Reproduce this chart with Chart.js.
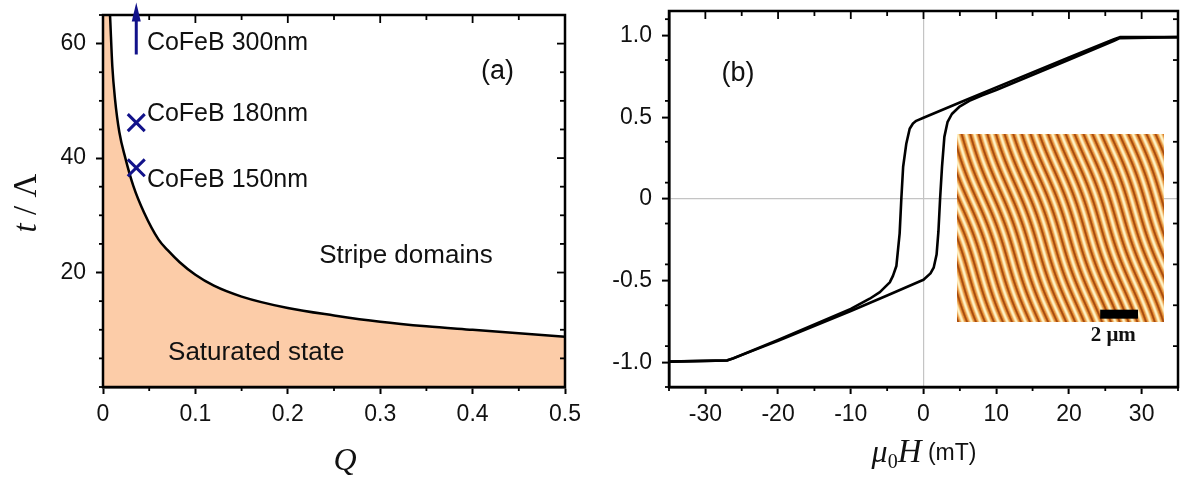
<!DOCTYPE html>
<html>
<head>
<meta charset="utf-8">
<script src="https://cdn.jsdelivr.net/npm/chart.js@4"></script>
<style>
  html, body { margin: 0; padding: 0; background: #fff; }
  #wrap { position: relative; width: 1182px; height: 481px; }
  .panel { position: absolute; top: 0; height: 481px; }
</style>
</head>
<body>
<div id="wrap">
  <div class="panel" style="left:0;width:590px"><canvas id="phaseChart"></canvas></div>
  <div class="panel" style="left:590px;width:592px"><canvas id="loopChart"></canvas></div>
</div>
<script>
// (a) phase boundary t/Lambda vs Q
const phaseQ = [0, 0.006, 0.0076, 0.0101, 0.013, 0.0177, 0.0242, 0.0329, 0.0444, 0.06, 0.07, 0.083, 0.1, 0.12, 0.15, 0.2, 0.25, 0.3, 0.35, 0.4, 0.45, 0.5];
const phaseT = [70, 70, 65, 56, 50.3, 44.5, 40, 35.1, 30.5, 25.8, 23.9, 21.8, 19.6, 17.7, 15.8, 13.8, 12.5, 11.4, 10.6, 10, 9.4, 8.8];
const sampleQ = [0.036, 0.036];
const sampleT = [46.2, 38.3];
const arrowQ = 0.036, arrowFrom = 58.1, arrowTo = 67.2;
const sampleLabels = ['CoFeB 300nm', 'CoFeB 180nm', 'CoFeB 150nm'];
const labelQ = 0.0475;
const labelT = [60.1, 47.6, 36.1];
const qTicks = [0, 0.1, 0.2, 0.3, 0.4, 0.5];
const tTicks = [20, 40, 60];

// (b) hysteresis loop
const descH = [35, 27, 26.2, 20, 10, 5, 0, -1.0, -1.45, -1.9, -2.36, -2.8, -3.05, -3.28, -3.73, -4.2, -4.64, -6.0, -7.4, -10, -20, -26.2, -27, -35];
const descM = [0.99, 0.99, 0.977, 0.866, 0.683, 0.59, 0.497, 0.478, 0.462, 0.43, 0.34, 0.197, 0, -0.21, -0.41, -0.47, -0.51, -0.57, -0.61, -0.672, -0.862, -0.976, -0.987, -0.995];
const ascH = [-35, -27, -26.2, -20, -10, -5, 0, 0.96, 1.4, 1.8, 2.05, 2.28, 2.55, 2.87, 3.3, 3.9, 4.9, 6.3, 8, 10, 20, 26.2, 27, 35];
const ascM = [-0.995, -0.988, -0.975, -0.868, -0.685, -0.59, -0.494, -0.455, -0.42, -0.34, -0.2, 0, 0.2, 0.38, 0.47, 0.52, 0.563, 0.6, 0.633, 0.667, 0.852, 0.968, 0.984, 0.99];
const insetH = [4.65, 33.06];
const insetM = [0.396, -0.756];
const barH = [24.3, 29.5];
const barM = [-0.677, -0.732];
const barLabel = '2 μm';
const barLabelAt = [26.1, -0.835];
const hTicks = [-30, -20, -10, 0, 10, 20, 30];
const mTicks = [-1, -0.5, 0, 0.5, 1];

const peach = '#fccca8';
const navy = '#12128a';
const sans = 'Arial, "Liberation Sans", sans-serif';
const serif = '"Liberation Serif", "DejaVu Serif", serif';

Chart.defaults.font.family = sans;
Chart.defaults.color = '#111';

function pts(xs, ys) { return xs.map((v, i) => ({x: v, y: ys[i]})); }

function line(ctx, x1, y1, x2, y2) {
  ctx.beginPath(); ctx.moveTo(x1, y1); ctx.lineTo(x2, y2); ctx.stroke();
}

// box, minor ticks and mirrored (inward) ticks on top/right
function drawFrame(chart, minorX, minorY) {
  const {ctx, chartArea: a, scales: {x, y}} = chart;
  ctx.save();
  ctx.strokeStyle = '#000';
  ctx.lineWidth = 1.8;
  const isMajor = (s, v) => s.ticks.some(t => Math.abs(t.value - v) < 1e-6);
  for (let v = x.min; v <= x.max + 1e-9; v += minorX) {
    const px = x.getPixelForValue(v);
    const maj = isMajor(x, v);
    line(ctx, px, a.top, px, a.top + (maj ? 8 : 5));
    if (!maj) line(ctx, px, a.bottom, px, a.bottom + 4);
  }
  for (let v = y.min; v <= y.max + 1e-9; v += minorY) {
    const py = y.getPixelForValue(v);
    const maj = isMajor(y, v);
    line(ctx, a.right, py, a.right - (maj ? 8 : 5), py);
    if (!maj) line(ctx, a.left, py, a.left - 4, py);
  }
  ctx.lineWidth = 2.5;
  ctx.strokeRect(a.left, a.top, a.right - a.left, a.bottom - a.top);
  ctx.restore();
}

function axisOpts(ticks, size, horizontal, fmt) {
  return {
    type: 'linear',
    afterBuildTicks: s => { s.ticks = ticks.map(v => ({value: v})); },
    afterFit: s => {
      if (horizontal) s.height = size; else s.width = size;
      s.paddingTop = 0; s.paddingBottom = 0; s.paddingLeft = 0; s.paddingRight = 0;
    },
    ticks: { font: {size: 23}, color: '#111', padding: horizontal ? 7 : 10, callback: fmt },
    grid: { drawOnChartArea: false, tickLength: 7, tickWidth: 2, tickColor: '#000' },
    border: { display: true, color: '#000', width: 2.5 }
  };
}

// (a)
const phasePlugin = {
  id: 'phaseDeco',
  afterDraw(chart) {
    const {ctx, scales: {x, y}} = chart;
    drawFrame(chart, 0.05, 5);
    ctx.save();
    // arrow for 300 nm
    const ax = x.getPixelForValue(arrowQ);
    const y0 = y.getPixelForValue(arrowFrom), y1 = y.getPixelForValue(arrowTo);
    ctx.strokeStyle = navy; ctx.fillStyle = navy; ctx.lineWidth = 3;
    line(ctx, ax, y0, ax, y1 + 14);
    ctx.beginPath();
    ctx.moveTo(ax, y1); ctx.lineTo(ax + 4.5, y1 + 19); ctx.lineTo(ax - 4.5, y1 + 19);
    ctx.closePath(); ctx.fill();
    // labels
    ctx.fillStyle = '#111';
    ctx.font = '25px ' + sans;
    ctx.textBaseline = 'middle'; ctx.textAlign = 'left';
    sampleLabels.forEach((s, i) => ctx.fillText(s, x.getPixelForValue(labelQ), y.getPixelForValue(labelT[i])));
    ctx.font = '26px ' + sans;
    ctx.fillText('Stripe domains', x.getPixelForValue(0.234), y.getPixelForValue(22.9));
    ctx.fillText('Saturated state', x.getPixelForValue(0.0704), y.getPixelForValue(6.0));
    ctx.textAlign = 'center';
    ctx.font = '27px ' + sans;
    ctx.fillText('(a)', x.getPixelForValue(0.427), y.getPixelForValue(55.2));
    // axis titles
    ctx.textAlign = 'left'; ctx.textBaseline = 'alphabetic';
    ctx.font = 'italic 32px ' + serif;
    const qw = ctx.measureText('Q').width;
    ctx.fillText('Q', 345 - qw / 2, 470);
    ctx.translate(36, 203); ctx.rotate(-Math.PI / 2);
    const parts = [['italic 33px ' + serif, 't'], ['33px ' + serif, ' / '], ['33px ' + serif, 'Λ']];
    let tw = 0;
    parts.forEach(p => { ctx.font = p[0]; tw += ctx.measureText(p[1]).width; });
    let cx = -tw / 2;
    parts.forEach(p => { ctx.font = p[0]; ctx.fillText(p[1], cx, 0); cx += ctx.measureText(p[1]).width; });
    ctx.restore();
  }
};

new Chart(document.getElementById('phaseChart'), {
  type: 'scatter',
  data: {
    datasets: [{
      data: pts(sampleQ, sampleT),
      pointStyle: 'crossRot', pointRadius: 12, pointBorderWidth: 3,
      borderColor: navy, backgroundColor: navy, showLine: false
    }, {
      data: pts(phaseQ, phaseT),
      showLine: true, pointRadius: 0, borderColor: '#000', borderWidth: 2.5,
      backgroundColor: peach, fill: 'origin', cubicInterpolationMode: 'monotone'
    }]
  },
  options: {
    responsive: true, maintainAspectRatio: false, animation: false,
    layout: { padding: {left: 0, top: 15, right: 25, bottom: 0} },
    plugins: { legend: {display: false}, tooltip: {enabled: false} },
    scales: {
      x: Object.assign(axisOpts(qTicks, 94, true), {min: 0, max: 0.5}),
      y: Object.assign(axisOpts(tTicks, 103, false), {min: 0, max: 65})
    }
  },
  plugins: [phasePlugin]
});

// (b)
function stripeImage(w, h) {
  const c = document.createElement('canvas');
  c.width = w; c.height = h;
  const g = c.getContext('2d');
  const img = g.createImageData(w, h);
  const dark = [166, 74, 14], mid = [228, 142, 52], light = [255, 243, 198];
  const ang = 20 * Math.PI / 180, period = 8.8;
  for (let j = 0; j < h; j++) {
    for (let i = 0; i < w; i++) {
      const ph = (i - j * Math.tan(ang) + 1.6 * Math.sin(j / 23 + i / 60)) / period;
      const v = 0.5 + 0.5 * Math.cos(2 * Math.PI * ph);
      let col;
      if (v < 0.25) { const t = v / 0.25; col = dark.map((d, k) => d + (mid[k] - d) * t); }
      else { const t = Math.pow((v - 0.25) / 0.75, 1.4); col = mid.map((d, k) => d + (light[k] - d) * t); }
      const o = (j * w + i) * 4;
      img.data[o] = col[0]; img.data[o + 1] = col[1]; img.data[o + 2] = col[2]; img.data[o + 3] = 255;
    }
  }
  g.putImageData(img, 0, 0);
  return c;
}

const loopPlugin = {
  id: 'loopDeco',
  afterDatasetsDraw(chart) {
    const {ctx, scales: {x, y}} = chart;
    const l = x.getPixelForValue(insetH[0]), r = x.getPixelForValue(insetH[1]);
    const t = y.getPixelForValue(insetM[0]), b = y.getPixelForValue(insetM[1]);
    const w = Math.round(r - l), h = Math.round(b - t);
    ctx.drawImage(stripeImage(w, h), Math.round(l), Math.round(t));
    ctx.fillStyle = '#000';
    const bl = x.getPixelForValue(barH[0]), br = x.getPixelForValue(barH[1]);
    const bt = y.getPixelForValue(barM[0]), bb = y.getPixelForValue(barM[1]);
    ctx.fillRect(bl, bt, br - bl, bb - bt);
  },
  afterDraw(chart) {
    const {ctx, scales: {x, y}} = chart;
    drawFrame(chart, 5, 0.25);
    ctx.save();
    ctx.fillStyle = '#111';
    ctx.textBaseline = 'middle'; ctx.textAlign = 'center';
    ctx.font = 'bold 21px ' + serif;
    ctx.fillText(barLabel, x.getPixelForValue(barLabelAt[0]), y.getPixelForValue(barLabelAt[1]));
    ctx.font = '27px ' + sans;
    ctx.fillText('(b)', x.getPixelForValue(-25.5), y.getPixelForValue(0.77));
    // x title: mu0 H (mT)
    ctx.textAlign = 'left'; ctx.textBaseline = 'alphabetic';
    const xs = [['italic 32px ' + serif, 'μ', 0], ['20px ' + serif, '0', 6], ['italic 33px ' + serif, 'H', 0], ['23px ' + sans, ' (mT)', -2]];
    let tw = 0;
    xs.forEach(p => { ctx.font = p[0]; tw += ctx.measureText(p[1]).width; });
    let cx = 924 - 590 - tw / 2;
    xs.forEach(p => { ctx.font = p[0]; ctx.fillText(p[1], cx, 462 + p[2]); cx += ctx.measureText(p[1]).width; });
    // y title: M_y / M_S
    ctx.translate(622, 208); ctx.rotate(-Math.PI / 2);
    const ys = [['italic 29px ' + serif, 'M', 0], ['19px ' + sans, 'y', 6], ['29px ' + serif, ' /', 0], ['italic 29px ' + serif, 'M', 0], ['16px ' + serif, 'S', 5]];
    tw = 0;
    ys.forEach(p => { ctx.font = p[0]; tw += ctx.measureText(p[1]).width; });
    cx = -tw / 2;
    ys.forEach(p => { ctx.font = p[0]; ctx.fillText(p[1], cx, p[2]); cx += ctx.measureText(p[1]).width; });
    ctx.restore();
  }
};

new Chart(document.getElementById('loopChart'), {
  type: 'scatter',
  data: {
    datasets: [{
      data: pts(descH, descM),
      showLine: true, pointRadius: 0, borderColor: '#000', borderWidth: 2.6, borderJoinStyle: 'round'
    }, {
      data: pts(ascH, ascM),
      showLine: true, pointRadius: 0, borderColor: '#000', borderWidth: 2.6, borderJoinStyle: 'round'
    }]
  },
  options: {
    responsive: true, maintainAspectRatio: false, animation: false,
    layout: { padding: {left: 0, top: 11, right: 4, bottom: 0} },
    plugins: { legend: {display: false}, tooltip: {enabled: false} },
    scales: {
      x: Object.assign(axisOpts(hTicks, 94, true), {min: -35, max: 35}),
      y: Object.assign(axisOpts(mTicks, 79, false, v => v === 0 ? '0' : v.toFixed(1)), {min: -1.15, max: 1.15})
    }
  },
  plugins: [loopPlugin]
});

// grey zero lines in (b)
const lc = Chart.getChart('loopChart');
['x', 'y'].forEach(k => {
  lc.options.scales[k].grid.drawOnChartArea = true;
  lc.options.scales[k].grid.color = c => (c.tick && c.tick.value === 0) ? '#c4c4c4' : 'rgba(0,0,0,0)';
  lc.options.scales[k].grid.lineWidth = 1.2;
});
lc.update();
</script>
</body>
</html>
